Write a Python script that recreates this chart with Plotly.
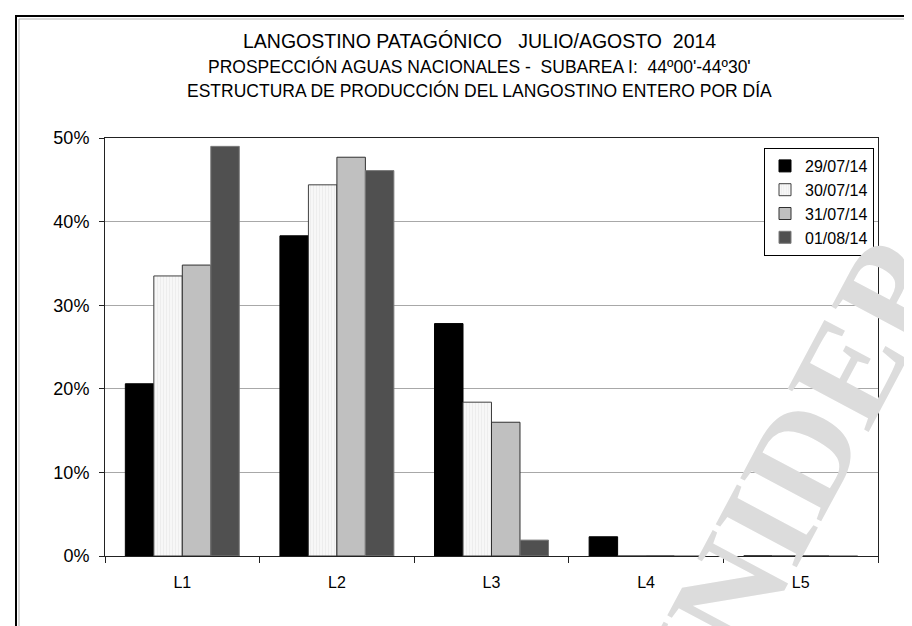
import plotly.graph_objects as go

# Datos (porcentaje por categoría de talla)
categorias = ['L1', 'L2', 'L3', 'L4', 'L5']
fechas = ['29/07/14', '30/07/14', '31/07/14', '01/08/14']
dia_29_07 = [20.6, 38.3, 27.8, 2.3, 0.0]
dia_30_07 = [33.5, 44.4, 18.4, 0.0, 0.0]
dia_31_07 = [34.8, 47.7, 16.0, 0.0, 0.0]
dia_01_08 = [49.0, 46.1, 1.9, 0.0, 0.0]
series = [dia_29_07, dia_30_07, dia_31_07, dia_01_08]

titulo = [
    'LANGOSTINO PATAGÓNICO\u00a0\u00a0 JULIO/AGOSTO\u00a0 2014',
    "PROSPECCIÓN AGUAS NACIONALES -\u00a0 SUBAREA I:\u00a0 44º00'-44º30'",
    'ESTRUCTURA DE PRODUCCIÓN DEL LANGOSTINO ENTERO POR DÍA',
]

# Estilo de cada serie
rellenos = ['#000000', '#f4f4f4', '#c0c0c0', '#505050']
bordes = ['#000000', '#404040', '#303030', '#7a7a7a']

fig = go.Figure()

for i, valores in enumerate(series):
    marker = dict(color=rellenos[i], line=dict(color=bordes[i], width=1))
    if i == 1:
        # Relleno rayado suave de la serie blanca
        marker['pattern'] = dict(shape='|', fgcolor='#dcdcdc', bgcolor='#f7f7f7',
                                 size=3, solidity=0.25)
    fig.add_trace(go.Bar(x=categorias, y=valores, name=fechas[i], marker=marker))

# Ejes
fig.update_xaxes(
    showline=True, linecolor='#222222', linewidth=1, mirror=True,
    ticks='outside', tickson='boundaries', ticklen=6, tickcolor='#222222',
    ticklabelstandoff=12, showgrid=False,
    tickfont=dict(size=16, color='#000000'),
)
fig.update_yaxes(
    range=[0, 50], dtick=10, ticksuffix='%',
    showline=True, linecolor='#222222', linewidth=1, mirror=True,
    ticks='outside', ticklen=5, tickcolor='#222222', ticklabelstandoff=6,
    showgrid=True, gridcolor='#a8a8a8', gridwidth=1, zeroline=False,
    tickfont=dict(size=18, color='#000000'),
)

# Títulos como anotaciones centradas
anotaciones = []
for texto, y_px, tam in zip(titulo, [33, 58, 83], [19.5, 17.5, 17.5]):
    anotaciones.append(dict(
        text=texto, showarrow=False, xref='paper', yref='paper',
        x=0.485, y=(548 - y_px) / 418, xanchor='center', yanchor='middle',
        font=dict(size=tam, color='#000000'),
    ))

# Marca de agua
anotaciones.append(dict(
    text='<b>INIDEP</b>', showarrow=False, xref='paper', yref='paper',
    x=(786 - 97) / 773, y=(548 - 462) / 418, xanchor='center', yanchor='middle',
    textangle=-62,
    font=dict(size=140, color='#dcdcdc', family='Liberation Serif'),
))

fig.update_layout(
    width=912, height=626,
    margin=dict(l=97, r=42, t=130, b=78),
    paper_bgcolor='white', plot_bgcolor='white',
    font=dict(family='Liberation Sans, Arial', color='#000000'),
    barmode='group', bargap=0.263, bargroupgap=0,
    legend=dict(
        x=(756 - 97) / 773, y=(548 - 140) / 418, xanchor='left', yanchor='top',
        bgcolor='white', bordercolor='#000000', borderwidth=1,
        font=dict(size=16), itemwidth=30,
    ),
    annotations=anotaciones,
    shapes=[
        # Marco exterior del gráfico
        dict(type='rect', xref='paper', yref='paper',
             x0=(8 - 97) / 773, x1=1.5, y0=-0.5, y1=(548 - 8) / 418,
             line=dict(color='#000000', width=2)),
        dict(type='rect', xref='paper', yref='paper',
             x0=(11 - 97) / 773, x1=1.5, y0=-0.5, y1=(548 - 11) / 418,
             line=dict(color='#b0b0b0', width=1)),
    ],
)

fig.write_html('out.html')
